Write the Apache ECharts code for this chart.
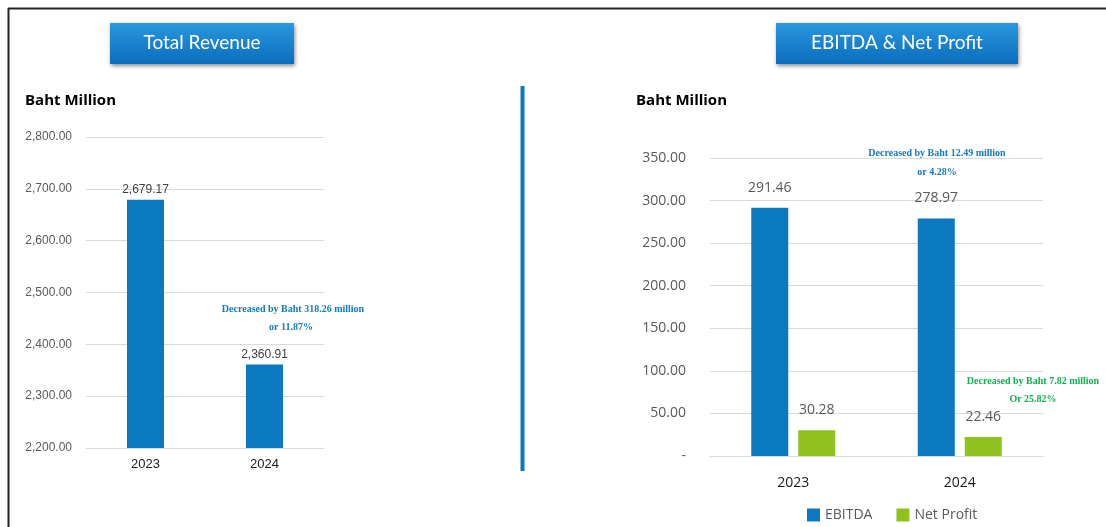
<!DOCTYPE html>
<html>
<head>
<meta charset="utf-8">
<script src="https://cdn.jsdelivr.net/npm/echarts@6/dist/echarts.min.js"></script>
<style>
html,body{margin:0;padding:0;background:#fff;}
#c{width:1106px;height:527px;}
</style>
</head>
<body>
<div id="c"></div>
<script>
// ---- data ----
const years = ['2023', '2024'];
const revenue = [2679.17, 2360.91];
const ebitda = [291.46, 278.97];
const netProfit = [30.28, 22.46];
const seriesNames = ['EBITDA', 'Net Profit'];
const titles = ['Total Revenue', 'EBITDA & Net Profit'];
const unitLabel = 'Baht Million';
const notes = {
  revenue: ['Decreased by Baht 318.26 million', 'or 11.87%'],
  ebitda: ['Decreased by Baht 12.49 million', 'or 4.28%'],
  profit: ['Decreased by Baht 7.82 million', 'Or 25.82%']
};

const BLUE = '#0b79c2';
const GREEN = '#8fc11f';

function fmt(v) {
  return v.toLocaleString('en-US', {minimumFractionDigits: 2, maximumFractionDigits: 2});
}

const chart = echarts.init(document.getElementById('c'));

function button(x, y, w, h, label) {
  return {
    type: 'group', left: x, top: y,
    children: [
      {type: 'rect', shape: {x: 0, y: 0, width: w, height: h},
       style: {fill: new echarts.graphic.LinearGradient(0, 0, 0, 1, [
         {offset: 0, color: '#2a97de'}, {offset: 1, color: '#0a6dbd'}]),
         shadowBlur: 4, shadowOffsetX: 1, shadowOffsetY: 2, shadowColor: 'rgba(0,0,0,0.45)'}},
      {type: 'text', x: w / 2, y: h / 2 - 1,
       style: {text: label, fill: '#fff', font: '19px Lato, "Open Sans", sans-serif', align: 'center', verticalAlign: 'middle'}}
    ]
  };
}
function note(cx, cy, text, color) {
  return {type: 'text', x: cx, y: cy,
    style: {text: text, fill: color, font: 'bold 10px "Liberation Serif", "DejaVu Serif", serif', align: 'center', verticalAlign: 'middle'}};
}

const option = {
  animation: false,
  backgroundColor: '#fff',
  graphic: [
    {type: 'line', shape: {x1: 8, y1: 8.5, x2: 1106, y2: 8.5}, style: {stroke: '#222', lineWidth: 2}},
    {type: 'line', shape: {x1: 8.5, y1: 8, x2: 8.5, y2: 527}, style: {stroke: '#222', lineWidth: 2}},
    {type: 'rect', shape: {x: 520.5, y: 86, width: 4, height: 385}, style: {fill: BLUE}},
    button(110, 23, 184, 41, titles[0]),
    button(776, 23, 242, 41, titles[1]),
    {type: 'text', x: 25, y: 101, style: {text: unitLabel, fill: '#000', font: 'bold 15px "Open Sans", "Noto Sans", sans-serif', verticalAlign: 'middle'}},
    {type: 'text', x: 636, y: 101, style: {text: unitLabel, fill: '#000', font: 'bold 15px "Open Sans", "Noto Sans", sans-serif', verticalAlign: 'middle'}},
    note(293, 309, notes.revenue[0], '#1479c4'),
    note(291, 327, notes.revenue[1], '#1479c4'),
    note(937, 153, notes.ebitda[0], '#1479c4'),
    note(937, 172, notes.ebitda[1], '#1479c4'),
    note(1033, 381, notes.profit[0], '#12b04e'),
    note(1033, 399, notes.profit[1], '#12b04e')
  ],
  legend: {
    data: seriesNames, left: 802, top: 503, itemWidth: 13, itemHeight: 13, itemGap: 24, icon: 'rect',
    textStyle: {color: '#595959', fontSize: 14, fontFamily: '"Open Sans", sans-serif'}
  },
  grid: [
    {left: 86, right: 1106 - 324, top: 137, bottom: 527 - 448},
    {left: 710, right: 1106 - 1043, top: 158, bottom: 527 - 456}
  ],
  xAxis: [
    {type: 'category', gridIndex: 0, data: years, axisLine: {show: false}, axisTick: {show: false},
     axisLabel: {margin: 10, color: '#1a1a1a', fontSize: 13, fontFamily: 'Arial, "Liberation Sans", sans-serif'}},
    {type: 'category', gridIndex: 1, data: years, axisLine: {lineStyle: {color: '#d9d9d9'}}, axisTick: {show: false},
     axisLabel: {margin: 20, color: '#1a1a1a', fontSize: 14, fontFamily: '"Open Sans", sans-serif'}}
  ],
  yAxis: [
    {type: 'value', gridIndex: 0, min: 2200, max: 2800, interval: 100,
     axisLabel: {margin: 14, color: '#595959', fontSize: 12, fontFamily: 'Arial, "Liberation Sans", sans-serif', formatter: v => fmt(v)},
     splitLine: {lineStyle: {color: '#d9d9d9'}}},
    {type: 'value', gridIndex: 1, min: 0, max: 350, interval: 50,
     axisLabel: {margin: 24, color: '#595959', fontSize: 14, fontFamily: '"Open Sans", sans-serif', formatter: v => v === 0 ? '-' : fmt(v)},
     splitLine: {lineStyle: {color: '#d9d9d9'}}}
  ],
  series: [
    {type: 'bar', name: 'Total Revenue', xAxisIndex: 0, yAxisIndex: 0, data: revenue, barWidth: 37,
     itemStyle: {color: BLUE},
     label: {show: true, position: 'top', distance: 4, color: '#404040', fontSize: 12, fontFamily: 'Arial, "Liberation Sans", sans-serif', formatter: p => fmt(p.value)}},
    {type: 'bar', name: seriesNames[0], xAxisIndex: 1, yAxisIndex: 1, data: ebitda, barWidth: 37, barGap: '27%',
     itemStyle: {color: BLUE},
     label: {show: true, position: 'top', distance: 13, color: '#595959', fontSize: 14, fontFamily: '"Open Sans", sans-serif', formatter: p => fmt(p.value)}},
    {type: 'bar', name: seriesNames[1], xAxisIndex: 1, yAxisIndex: 1, data: netProfit, barWidth: 37, barGap: '27%',
     itemStyle: {color: GREEN},
     label: {show: true, position: 'top', distance: 13, color: '#595959', fontSize: 14, fontFamily: '"Open Sans", sans-serif', formatter: p => fmt(p.value)}}
  ]
};
chart.setOption(option);
</script>
</body>
</html>
